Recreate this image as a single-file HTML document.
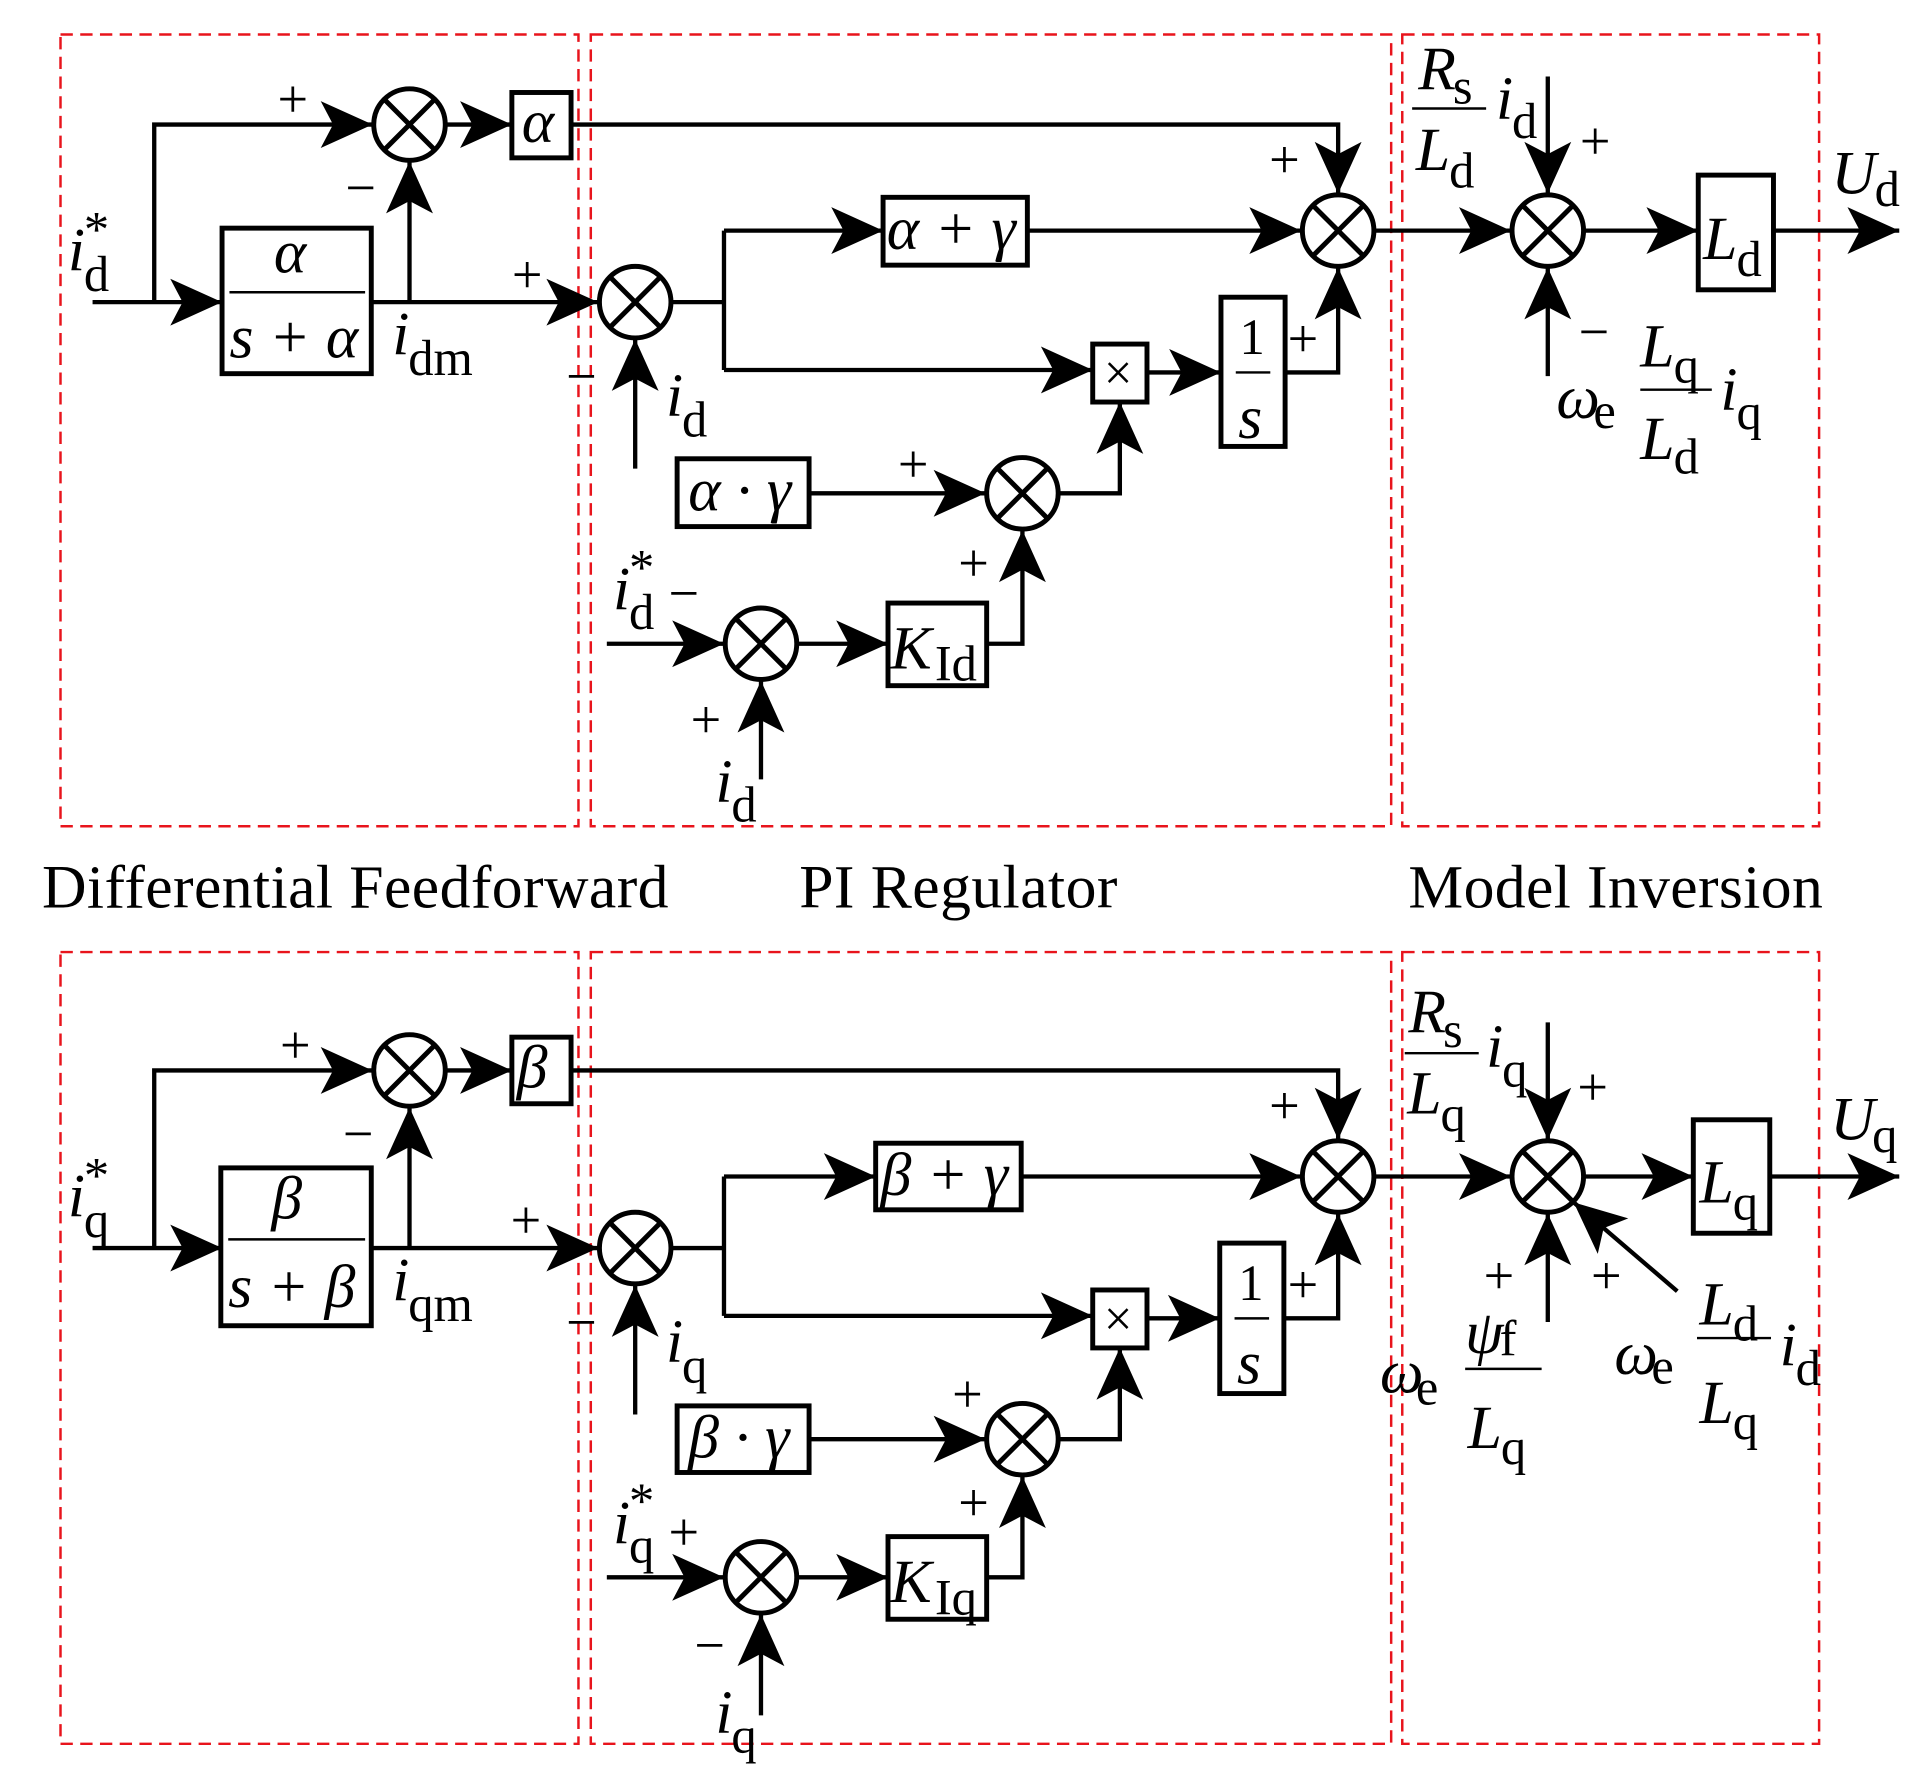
<!DOCTYPE html>
<html><head><meta charset="utf-8"><style>
html,body{margin:0;padding:0;background:#fff}
svg{display:block}
text{font-family:"Liberation Serif",serif;fill:#000}
.m{font-style:italic;font-size:50px}
.s{font-size:41px}
.p{font-size:44px}
.L{font-size:50px}
</style></head><body>
<svg width="1924" height="1766" viewBox="0 0 1560 1432" xmlns="http://www.w3.org/2000/svg">
<defs>
<marker id="a" markerUnits="userSpaceOnUse" markerWidth="50" markerHeight="50" viewBox="-45 -25 50 50" refX="0" refY="0" orient="auto">
<path d="M0,0 L-42,-19 L-32,0 L-42,19 Z" fill="#000"/>
</marker>
</defs>
<g fill="none" stroke="#e8141c" stroke-width="2" stroke-dasharray="10,6">
<rect x="49" y="28" width="420" height="642"/>
<rect x="479" y="28" width="649" height="642"/>
<rect x="1137" y="28" width="338" height="642"/>
<rect x="49" y="772" width="420" height="642"/>
<rect x="479" y="772" width="649" height="642"/>
<rect x="1137" y="772" width="338" height="642"/>
</g>
<text x="34" y="736" class="L" textLength="508">Differential Feedforward</text>
<text x="648" y="736" class="L" textLength="258">PI Regulator</text>
<text x="1142" y="736" class="L" textLength="336">Model Inversion</text>

<!-- TOP -->
<g id="top">
<g fill="none" stroke="#000" stroke-width="3.5">
<path d="M75,245 H180" marker-end="url(#a)"/>
<path d="M125,245 V101 H302" marker-end="url(#a)"/>
<path d="M362,101 H415" marker-end="url(#a)"/>
<path d="M332,245 V131" marker-end="url(#a)"/>
<path d="M301,245 H485" marker-end="url(#a)"/>
<path d="M463,101 H1085 V157" marker-end="url(#a)"/>
<path d="M515,380 V275" marker-end="url(#a)"/>
<path d="M545,245 H587 M587,187 V300"/>
<path d="M587,187 H716" marker-end="url(#a)"/>
<path d="M833,187 H1055" marker-end="url(#a)"/>
<path d="M587,300 H886" marker-end="url(#a)"/>
<path d="M930,302 H990" marker-end="url(#a)"/>
<path d="M1042,302 H1085 V217" marker-end="url(#a)"/>
<path d="M656,400 H799" marker-end="url(#a)"/>
<path d="M859,400 H908 V326" marker-end="url(#a)"/>
<path d="M492,522 H587" marker-end="url(#a)"/>
<path d="M617,632 V552" marker-end="url(#a)"/>
<path d="M647,522 H720" marker-end="url(#a)"/>
<path d="M800,522 H829 V430" marker-end="url(#a)"/>
<path d="M1115,187 H1225" marker-end="url(#a)"/>
<path d="M1255,62 V157" marker-end="url(#a)"/>
<path d="M1255,305 V217" marker-end="url(#a)"/>
<path d="M1285,187 H1377" marker-end="url(#a)"/>
<path d="M1438,187 H1540" marker-end="url(#a)"/>
</g>
<g fill="#fff" stroke="#000" stroke-width="4">
<rect x="415" y="75" width="48" height="53"/>
<rect x="180" y="185" width="121" height="118"/>
<rect x="716" y="160" width="117" height="55"/>
<rect x="886" y="279" width="44" height="47"/>
<rect x="990" y="241" width="52" height="121"/>
<rect x="549" y="372" width="107" height="55"/>
<rect x="720" y="489" width="80" height="67"/>
<rect x="1377" y="142" width="61" height="93"/>
</g>
<g stroke="#000" stroke-width="2"><path d="M186,237 H296 M1002,302 H1030 M1145,88 H1205 M1330,316 H1388"/></g>
<g fill="none" stroke="#000" stroke-width="4">
<circle cx="332" cy="101" r="29"/><path d="M311.5,80.5 L352.5,121.5 M352.5,80.5 L311.5,121.5"/>
<circle cx="515" cy="245" r="29"/><path d="M494.5,224.5 L535.5,265.5 M535.5,224.5 L494.5,265.5"/>
<circle cx="1085" cy="187" r="29"/><path d="M1064.5,166.5 L1105.5,207.5 M1105.5,166.5 L1064.5,207.5"/>
<circle cx="829" cy="400" r="29"/><path d="M808.5,379.5 L849.5,420.5 M849.5,379.5 L808.5,420.5"/>
<circle cx="617" cy="522" r="29"/><path d="M596.5,501.5 L637.5,542.5 M637.5,501.5 L596.5,542.5"/>
<circle cx="1255" cy="187" r="29"/><path d="M1234.5,166.5 L1275.5,207.5 M1275.5,166.5 L1234.5,207.5"/>
</g>
<g class="p">
<text x="225" y="95">+</text><text x="280" y="167">−</text>
<text x="415" y="237">+</text><text x="459" y="320">−</text>
<text x="1029" y="144">+</text><text x="1044" y="289">+</text>
<text x="728" y="391">+</text><text x="777" y="471">+</text>
<text x="542" y="496">−</text><text x="560" y="598">+</text>
<text x="1281" y="129">+</text><text x="1280" y="284">−</text>
</g>
<text x="423" y="115" class="m">α</text>
<text x="222" y="221" class="m">α</text>
<text x="186" y="290" class="m">s + α</text>
<text x="719" y="202" class="m">α + γ</text>
<text x="895" y="316" class="s">×</text>
<text x="1005" y="287" class="s">1</text>
<text x="1004" y="355" class="m">s</text>
<text x="558" y="414" class="m">α · γ</text>
<text x="722" y="542" class="m">K</text><text x="758" y="552" class="s">Id</text>
<text x="1381" y="210" class="m">L</text><text x="1408" y="224" class="s">d</text>
<text x="55" y="219" class="m">i</text><text x="68" y="236" class="s">d</text><text x="68" y="200" class="s">*</text>
<text x="318" y="287" class="m">i</text><text x="331" y="304" class="s">dm</text>
<text x="540" y="337" class="m">i</text><text x="553" y="354" class="s">d</text>
<text x="497" y="494" class="m">i</text><text x="510" y="510" class="s">d</text><text x="510" y="474" class="s">*</text>
<text x="580" y="650" class="m">i</text><text x="593" y="666" class="s">d</text>
<text x="1150" y="72" class="m">R</text><text x="1178" y="84" class="s">s</text>
<text x="1148" y="138" class="m">L</text><text x="1175" y="152" class="s">d</text>
<text x="1213" y="96" class="m">i</text><text x="1226" y="112" class="s">d</text>
<text x="1485" y="157" class="m">U</text><text x="1520" y="167" class="s">d</text>
<text x="1262" y="339" class="m">ω</text><text x="1292" y="347" class="s">e</text>
<text x="1330" y="297" class="m">L</text><text x="1357" y="310" class="s">q</text>
<text x="1330" y="372" class="m">L</text><text x="1357" y="384" class="s">d</text>
<text x="1395" y="332" class="m">i</text><text x="1408" y="348" class="s">q</text>
</g>

<!-- BOTTOM -->
<g transform="translate(0,767)">
<g fill="none" stroke="#000" stroke-width="3.5">
<path d="M75,245 H180" marker-end="url(#a)"/>
<path d="M125,245 V101 H302" marker-end="url(#a)"/>
<path d="M362,101 H415" marker-end="url(#a)"/>
<path d="M332,245 V131" marker-end="url(#a)"/>
<path d="M301,245 H485" marker-end="url(#a)"/>
<path d="M463,101 H1085 V157" marker-end="url(#a)"/>
<path d="M515,380 V275" marker-end="url(#a)"/>
<path d="M545,245 H587 M587,187 V300"/>
<path d="M587,187 H710" marker-end="url(#a)"/>
<path d="M828,187 H1055" marker-end="url(#a)"/>
<path d="M587,300 H886" marker-end="url(#a)"/>
<path d="M930,302 H989" marker-end="url(#a)"/>
<path d="M1041,302 H1085 V217" marker-end="url(#a)"/>
<path d="M656,400 H799" marker-end="url(#a)"/>
<path d="M859,400 H908 V326" marker-end="url(#a)"/>
<path d="M492,512 H587" marker-end="url(#a)"/>
<path d="M617,624 V542" marker-end="url(#a)"/>
<path d="M647,512 H720" marker-end="url(#a)"/>
<path d="M800,512 H829 V430" marker-end="url(#a)"/>
<path d="M1115,187 H1225" marker-end="url(#a)"/>
<path d="M1255,62 V157" marker-end="url(#a)"/>
<path d="M1255,305 V217" marker-end="url(#a)"/>
<path d="M1360,280 L1276,208" marker-end="url(#a)"/>
<path d="M1285,187 H1373" marker-end="url(#a)"/>
<path d="M1435,187 H1540" marker-end="url(#a)"/>
</g>
<g fill="#fff" stroke="#000" stroke-width="4">
<rect x="415" y="74" width="48" height="54"/>
<rect x="179" y="180" width="122" height="128"/>
<rect x="710" y="160" width="118" height="54"/>
<rect x="886" y="279" width="44" height="47"/>
<rect x="989" y="241" width="52" height="122"/>
<rect x="549" y="373" width="107" height="54"/>
<rect x="720" y="479" width="80" height="67"/>
<rect x="1373" y="141" width="62" height="92"/>
</g>
<g stroke="#000" stroke-width="2"><path d="M185,238 H296 M1001,302 H1029 M1139,87 H1199 M1188,343 H1250 M1376,318 H1436"/></g>
<g fill="none" stroke="#000" stroke-width="4">
<circle cx="332" cy="101" r="29"/><path d="M311.5,80.5 L352.5,121.5 M352.5,80.5 L311.5,121.5"/>
<circle cx="515" cy="245" r="29"/><path d="M494.5,224.5 L535.5,265.5 M535.5,224.5 L494.5,265.5"/>
<circle cx="1085" cy="187" r="29"/><path d="M1064.5,166.5 L1105.5,207.5 M1105.5,166.5 L1064.5,207.5"/>
<circle cx="829" cy="400" r="29"/><path d="M808.5,379.5 L849.5,420.5 M849.5,379.5 L808.5,420.5"/>
<circle cx="617" cy="512" r="29"/><path d="M596.5,491.5 L637.5,532.5 M637.5,491.5 L596.5,532.5"/>
<circle cx="1255" cy="187" r="29"/><path d="M1234.5,166.5 L1275.5,207.5 M1275.5,166.5 L1234.5,207.5"/>
</g>
<g class="p">
<text x="227" y="95">+</text><text x="278" y="167">−</text>
<text x="414" y="237">+</text><text x="459" y="320">−</text>
<text x="1029" y="144">+</text><text x="1044" y="289">+</text>
<text x="772" y="378">+</text><text x="777" y="466">+</text>
<text x="542" y="490">+</text><text x="563" y="582">−</text>
<text x="1279" y="129">+</text>
<text x="1203" y="282">+</text><text x="1290" y="282">+</text>
</g>
<text x="419" y="115" class="m">β</text>
<text x="220" y="221" class="m">β</text>
<text x="185" y="293" class="m">s + β</text>
<text x="714" y="202" class="m">β + γ</text>
<text x="895" y="316" class="s">×</text>
<text x="1004" y="287" class="s">1</text>
<text x="1003" y="355" class="m">s</text>
<text x="558" y="415" class="m">β · γ</text>
<text x="722" y="532" class="m">K</text><text x="758" y="542" class="s">Iq</text>
<text x="1378" y="208" class="m">L</text><text x="1405" y="222" class="s">q</text>
<text x="55" y="219" class="m">i</text><text x="68" y="236" class="s">q</text><text x="68" y="200" class="s">*</text>
<text x="318" y="287" class="m">i</text><text x="331" y="304" class="s">qm</text>
<text x="540" y="337" class="m">i</text><text x="553" y="354" class="s">q</text>
<text x="497" y="484" class="m">i</text><text x="510" y="500" class="s">q</text><text x="510" y="464" class="s">*</text>
<text x="580" y="638" class="m">i</text><text x="593" y="654" class="s">q</text>
<text x="1142" y="70" class="m">R</text><text x="1170" y="82" class="s">s</text>
<text x="1141" y="136" class="m">L</text><text x="1168" y="150" class="s">q</text>
<text x="1205" y="98" class="m">i</text><text x="1218" y="114" class="s">q</text>
<text x="1484" y="157" class="m">U</text><text x="1518" y="167" class="s">q</text>
<text x="1119" y="362" class="m">ω</text><text x="1148" y="372" class="s">e</text>
<text x="1188" y="330" class="m">ψ</text><text x="1216" y="332" class="s">f</text>
<text x="1190" y="407" class="m">L</text><text x="1217" y="420" class="s">q</text>
<text x="1309" y="347" class="m">ω</text><text x="1339" y="355" class="s">e</text>
<text x="1378" y="307" class="m">L</text><text x="1405" y="320" class="s">d</text>
<text x="1378" y="387" class="m">L</text><text x="1405" y="400" class="s">q</text>
<text x="1443" y="340" class="m">i</text><text x="1456" y="356" class="s">d</text>
</g>
</svg>
</body></html>
